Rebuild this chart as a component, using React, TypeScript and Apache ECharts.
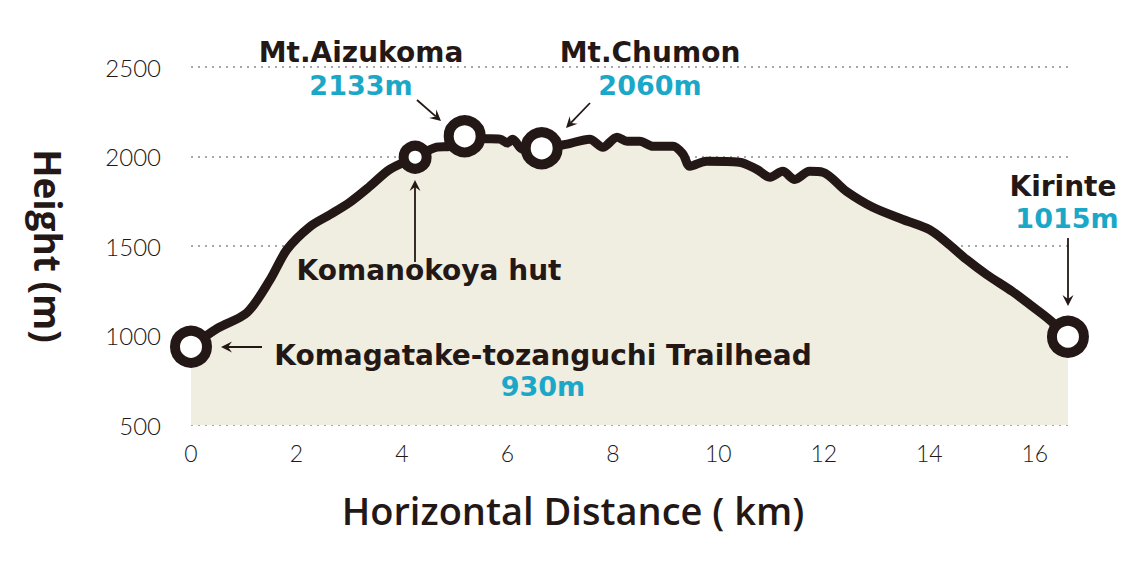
import React, { useEffect, useRef } from "react";
import * as echarts from "echarts";

// Elevation profile (distance km, height m)
const distKm = [0, 0.5, 1.06, 1.5, 1.82, 2.26, 2.64, 3.01, 3.39, 3.77, 4.25, 4.66, 4.91, 5.19, 5.55, 5.86, 6.0, 6.1, 6.29, 6.65, 7.13, 7.56, 7.81, 8.08, 8.27, 8.51, 8.76, 9.14, 9.33, 9.46, 9.78, 10.4, 10.73, 10.98, 11.22, 11.45, 11.73, 11.98, 12.43, 12.93, 13.5, 14.0, 14.33, 14.71, 15.09, 15.58, 15.96, 16.28, 16.63];
const heightM = [937, 1040, 1127, 1312, 1480, 1609, 1676, 1744, 1833, 1928, 1996, 2052, 2057, 2113, 2100, 2097, 2075, 2097, 2040, 2046, 2069, 2097, 2052, 2108, 2085, 2085, 2057, 2057, 2013, 1946, 1974, 1968, 1928, 1884, 1917, 1872, 1917, 1912, 1805, 1716, 1648, 1592, 1520, 1424, 1340, 1245, 1161, 1088, 993];

// Landmarks
const markerNames = ["Komagatake-tozanguchi Trailhead", "Komanokoya hut", "Mt.Aizukoma", "Mt.Chumon", "Kirinte"];
const markerDist = [0, 4.25, 5.19, 6.65, 16.63];
const markerHeight = [937, 1996, 2113, 2046, 993];
const markerLabels = ["930m", "", "2133m", "2060m", "1015m"];

const yTicks = [500, 1000, 1500, 2000, 2500];
const xTickStep = 2;

const DARK = "#231815";
const CYAN = "#1ba8c8";
const BEIGE = "#f0ede1";

function arrow(x1: number, y1: number, x2: number, y2: number) {
  const a = Math.atan2(y2 - y1, x2 - x1);
  const L = 11, W = 5.5, N = 7;
  const bx = x2 - L * Math.cos(a), by = y2 - L * Math.sin(a);
  const nx = x2 - N * Math.cos(a), ny = y2 - N * Math.sin(a);
  const px = -Math.sin(a), py = Math.cos(a);
  return [
    { type: "line", z: 100, shape: { x1, y1, x2: nx, y2: ny }, style: { stroke: DARK, lineWidth: 1.8 } },
    {
      type: "polygon",
      z: 100,
      shape: { points: [[x2, y2], [bx + px * W, by + py * W], [nx, ny], [bx - px * W, by - py * W]] },
      style: { fill: DARK },
    },
  ];
}

export default function App() {
  const ref = useRef<HTMLDivElement>(null);
  useEffect(() => {
    document.body.style.margin = "0";
    const chart = echarts.init(ref.current!, null, { renderer: "svg" });
    const boldFont = "DejaVu Sans";
    const txt = (text: string, x: number, y: number, color: string, size = 28) => ({
      type: "text",
      z: 100,
      style: { text, x, y, fill: color, fontSize: size, fontWeight: "bold", fontFamily: boldFont, align: "center", verticalAlign: "middle" },
    });
    chart.setOption({
      animation: false,
      grid: { left: 191, right: 71, top: 67, bottom: 145 },
      xAxis: {
        type: "value",
        min: 0,
        max: 16.65,
        interval: xTickStep,
        name: "Horizontal Distance ( km)",
        nameLocation: "middle",
        nameGap: 66,
        nameTextStyle: { fontSize: 38, fontFamily: "Open Sans", fontWeight: 600, color: DARK, padding: [0, 114, 0, 0] },
        axisLine: { show: false },
        axisTick: { show: false },
        splitLine: { show: false },
        axisLabel: { showMaxLabel: false, fontSize: 23, fontFamily: "Lato", fontWeight: 300, color: DARK, margin: 16 },
      },
      yAxis: {
        type: "value",
        min: yTicks[0],
        max: yTicks[yTicks.length - 1],
        interval: 500,
        name: "Height (m)",
        nameLocation: "middle",
        nameGap: 124,
        nameRotate: -90,
        nameTextStyle: { fontSize: 37, fontFamily: "Open Sans", fontWeight: "bold", color: DARK },
        axisLine: { show: false },
        axisTick: { show: false },
        axisLabel: { formatter: (v: number) => String(v), fontSize: 24, fontFamily: "Lato", fontWeight: 300, color: DARK, margin: 30 },
        splitLine: { show: true, lineStyle: { color: "#a8a8a8", width: 2, type: [2, 5] } },
      },
      series: [
        {
          type: "line",
          data: distKm.map((d, i) => [d, heightM[i]]),
          smooth: 0.3,
          showSymbol: false,
          lineStyle: { color: DARK, width: 9, join: "round", cap: "round" },
          areaStyle: { color: BEIGE, opacity: 1, origin: "start" },
          z: 2,
        },
        {
          type: "scatter",
          data: markerDist.map((d, i) => ({ name: markerNames[i], value: [d, markerHeight[i]] })),
          symbol: "circle",
          symbolSize: (v: number[], p: any) => (p.dataIndex === 1 ? 23 : 32),
          itemStyle: { color: "#ffffff", borderColor: DARK, borderWidth: 10, opacity: 1 },
          emphasis: { disabled: true },
          z: 3,
        },
      ],
      graphic: [
        txt(markerNames[2], 361, 52, DARK),
        txt(markerLabels[2], 361, 85, CYAN, 27),
        txt(markerNames[3], 650, 52, DARK),
        txt(markerLabels[3], 650, 85, CYAN, 27),
        txt(markerNames[1], 429, 270, DARK),
        txt(markerNames[0], 543, 355, DARK),
        txt(markerLabels[0], 543, 386, CYAN, 27),
        txt(markerNames[4], 1063, 186, DARK),
        txt(markerLabels[4], 1067, 218, CYAN, 27),
        ...arrow(417, 100, 441, 121),
        ...arrow(590, 103, 566, 128),
        ...arrow(415, 262, 415, 180),
        ...arrow(262, 347, 221, 347),
        ...arrow(1068, 238, 1068, 306),
      ],
    });
    return () => chart.dispose();
  }, []);
  return <div ref={ref} style={{ width: 1140, height: 570 }} />;
}
